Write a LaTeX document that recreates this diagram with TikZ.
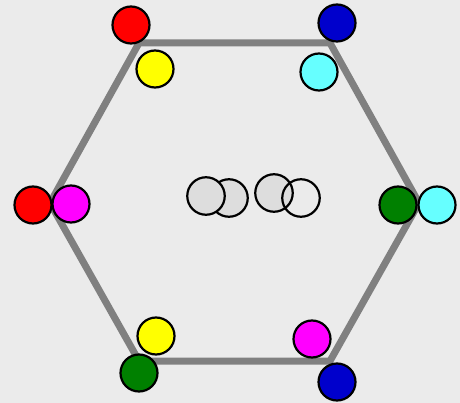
\documentclass[tikz,border=0pt]{standalone}
\usetikzlibrary{backgrounds}

\definecolor{bgray}{HTML}{EBEBEB}
\definecolor{edgegray}{HTML}{808080}
\definecolor{ballred}{HTML}{FF0000}
\definecolor{ballyellow}{HTML}{FFFF00}
\definecolor{ballmag}{HTML}{FF00FF}
\definecolor{ballblue}{HTML}{0000CC}
\definecolor{ballcyan}{HTML}{66FFFF}
\definecolor{ballgreen}{HTML}{008000}
\definecolor{ghost}{HTML}{DDDDDD}

\begin{document}
\begin{tikzpicture}[
  x=1pt, y=-1pt,
  ball/.style={draw=black, circle, line width=2.2pt, minimum size=37pt, inner sep=0pt},
  ghostball/.style={ball, minimum size=37.5pt},
  edge/.style={draw=edgegray, line width=7pt, line join=miter}
]

\fill[bgray] (0,0) rectangle (460,403);
\useasboundingbox (0,0) rectangle (460,403);

% hexagon corners
\coordinate (h1) at (139,43);
\coordinate (h2) at (330,43);
\coordinate (h3) at (419,203);
\coordinate (h4) at (330,361);
\coordinate (h5) at (139,361);
\coordinate (h6) at (50,203);
\draw[edge] (h1) -- (h2) -- (h3) -- (h4) -- (h5) -- (h6) -- cycle;

% outer balls
\node[ball, fill=ballred] (r1) at (131,25) {};
\node[ball, fill=ballyellow] (y1) at (155,69) {};
\node[ball, fill=ballblue] (b1) at (337,23) {};
\node[ball, fill=ballcyan] (c1) at (319,72) {};
\node[ball, fill=ballred] (r2) at (33,205) {};
\node[ball, fill=ballmag] (m1) at (71,204) {};
\node[ball, fill=ballgreen] (g1) at (398,205) {};
\node[ball, fill=ballcyan] (c2) at (437,205) {};
\node[ball, fill=ballyellow] (y2) at (156,336) {};
\node[ball, fill=ballgreen] (g2) at (139,373) {};
\node[ball, fill=ballmag] (m2) at (312,339) {};
\node[ball, fill=ballblue] (b2) at (337,382) {};

% middle
\node[ghostball, fill=ghost] (p2) at (229,198) {};
\node[ghostball, fill=ghost] (p1) at (206,196) {};
\node[ghostball, fill=ghost] (p3) at (274,193) {};
\node[ghostball] (p4) at (301,198) {};
\end{tikzpicture}
\end{document}
